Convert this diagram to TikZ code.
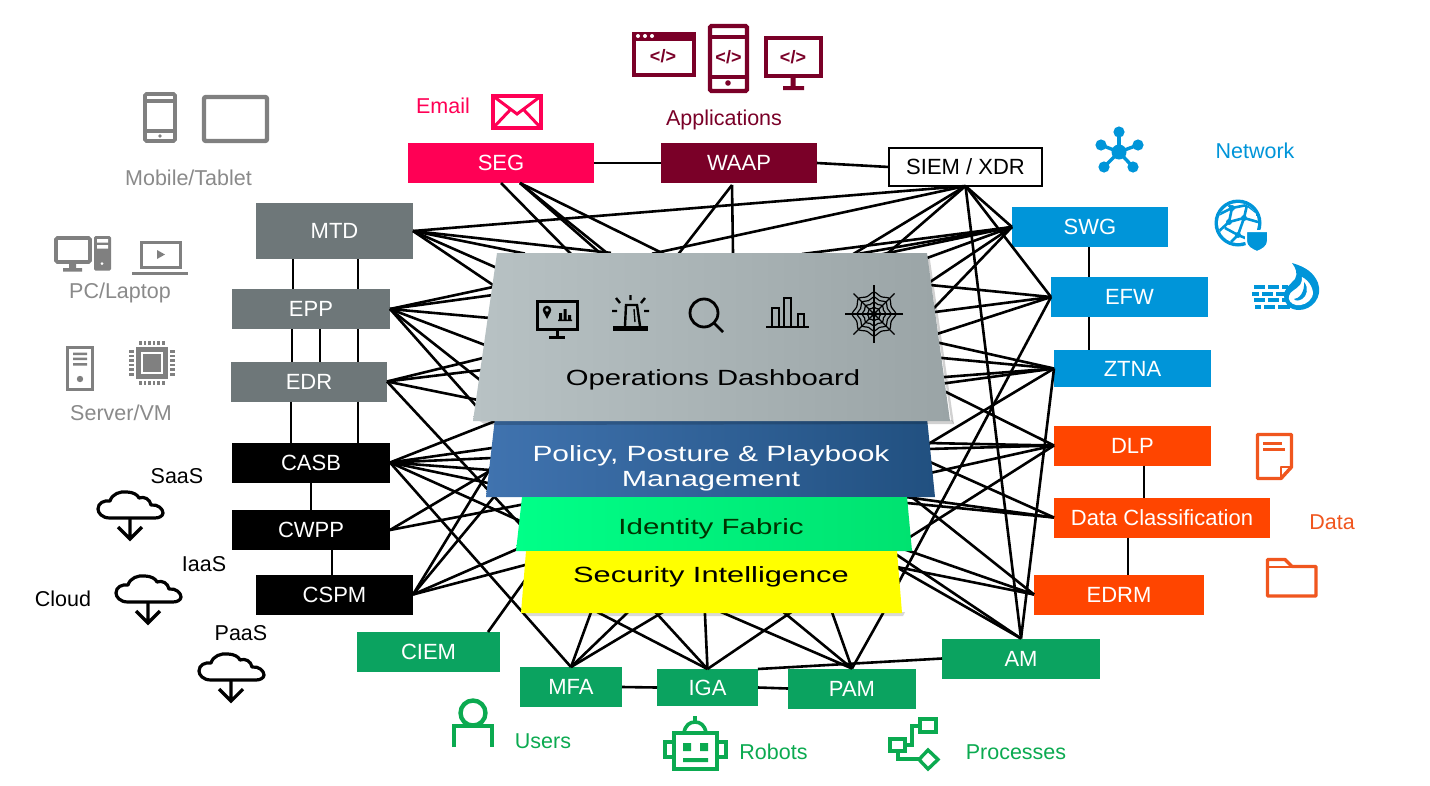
\documentclass[tikz,border=0pt]{standalone}
\usepackage{fontspec}
\usepackage{graphicx}
\setmainfont{Liberation Sans}
\usetikzlibrary{calc,shapes.geometric}
\definecolor{cseg}{HTML}{FF0055}
\definecolor{cwaap}{HTML}{7A0028}
\definecolor{cgrey}{HTML}{6E7779}
\definecolor{cblue}{HTML}{0095D9}
\definecolor{corange}{HTML}{FF4500}
\definecolor{cdata}{HTML}{F0561E}
\definecolor{cgreen}{HTML}{0BA360}
\definecolor{cicon}{HTML}{808080}
\definecolor{ctext}{HTML}{8A8A8A}
\definecolor{ctxtgreen}{HTML}{0BAA50}
\definecolor{polL}{HTML}{4073AF}
\definecolor{polR}{HTML}{215080}
\definecolor{idL}{HTML}{00FF88}
\definecolor{idR}{HTML}{00E270}
\definecolor{dashL}{HTML}{B8C2C4}
\definecolor{dashR}{HTML}{9AA4A6}
\definecolor{cyel}{HTML}{FFFF00}
\tikzset{
  box/.style={rectangle,inner sep=0pt,outer sep=0pt,text=white,font=\fontsize{22}{26}\selectfont,anchor=center},
  conn/.style={line width=2.6pt,black},
  hid/.style={conn,shorten >=-8pt},
  lbl/.style={inner sep=0pt,font=\fontsize{21.5}{26}\selectfont},
  ptext/.style={inner sep=0pt,font=\fontsize{22}{26}\selectfont},
  panel/.style={draw=none},
  shadowp/.style={fill=black,opacity=.18,draw=none},
}
\newcommand{\cloudicon}[2]{%
 \begin{scope}[shift={(#1,#2)}]
  \draw[line width=3.2pt,black,line join=round,line cap=round] (-20,0)
    .. controls (-28,0) and (-32,-5) .. (-32,-9)
    .. controls (-32,-15) and (-26,-18) .. (-20,-17)
    .. controls (-18,-24) and (-10,-27) .. (-3,-26)
    .. controls (3,-26) and (8,-23) .. (9,-20)
    .. controls (14,-22) and (20,-19) .. (21,-13)
    .. controls (28,-14) and (33,-9) .. (33,-5)
    .. controls (33,-2) and (29,0) .. (25,0) -- cycle;
  \draw[line width=3.2pt,black,line join=miter] (0,0) -- (0,20) (-12,9) -- (0,21) -- (12,9);
 \end{scope}}
\begin{document}
\begin{tikzpicture}[x=1pt,y=-1pt]
\useasboundingbox (0,0) rectangle (1430,785);
\fill[white] (0,0) rectangle (1430,785);
% boxes (nodes)
\node[box,fill=cseg,minimum width=186pt,minimum height=40pt] (seg) at (501,163) {SEG};
\node[box,fill=cwaap,minimum width=156pt,minimum height=40pt] (waap) at (739,163) {WAAP};
\node[box,fill=white,draw=black,line width=2.4pt,text=black,minimum width=153pt,minimum height=38pt] (siem) at (965.5,167) {SIEM / XDR};
\node[box,fill=cgrey,minimum width=157pt,minimum height=56pt] (mtd) at (334.5,231) {MTD};
\node[box,fill=cgrey,minimum width=158pt,minimum height=40pt] (epp) at (311,309) {EPP};
\node[box,fill=cgrey,minimum width=156pt,minimum height=40pt] (edr) at (309,381.5) {EDR};
\node[box,fill=black,minimum width=158pt,minimum height=40pt] (casb) at (311,462.5) {CASB};
\node[box,fill=black,minimum width=158pt,minimum height=40pt] (cwpp) at (311,530) {CWPP};
\node[box,fill=black,minimum width=157pt,minimum height=40pt] (cspm) at (334.5,594.5) {CSPM};
\node[box,fill=cblue,minimum width=156pt,minimum height=40pt] (swg) at (1090,227) {SWG};
\node[box,fill=cblue,minimum width=157pt,minimum height=40pt] (efw) at (1129.5,297) {EFW};
\node[box,fill=cblue,minimum width=157pt,minimum height=37pt] (ztna) at (1132.5,368.5) {ZTNA};
\node[box,fill=corange,minimum width=157pt,minimum height=40pt] (dlp) at (1132.5,445.5) {DLP};
\node[box,fill=corange,minimum width=216pt,minimum height=40pt] (dc) at (1162,517.5) {Data Classification};
\node[box,fill=corange,minimum width=170pt,minimum height=40pt] (edrm) at (1119,594.5) {EDRM};
\node[box,fill=cgreen,minimum width=143pt,minimum height=40pt] (ciem) at (428.5,652) {CIEM};
\node[box,fill=cgreen,minimum width=102pt,minimum height=40pt] (mfa) at (571,687) {MFA};
\node[box,fill=cgreen,minimum width=101pt,minimum height=37pt] (iga) at (707.5,687.5) {IGA};
\node[box,fill=cgreen,minimum width=128pt,minimum height=40pt] (pam) at (852,688.5) {PAM};
\node[box,fill=cgreen,minimum width=158pt,minimum height=40pt] (am) at (1021,658.5) {AM};
% connector hubs
\coordinate (seghub) at (520,183);
\coordinate (waaphub) at (732,185);
\coordinate (ciemhub) at (488,632);
% box to box
\draw[conn] (seg.east) -- (waap.west);
\draw[conn] (waap.east) -- (siem.west);
\draw[conn] (293,0|-mtd.south) -- (293,0|-epp.north);
\draw[conn] (358,0|-mtd.south) -- (358,0|-epp.north);
\draw[conn] (292,0|-epp.south) -- (292,0|-edr.north);
\draw[conn] (320,0|-epp.south) -- (320,0|-edr.north);
\draw[conn] (358,0|-epp.south) -- (358,0|-edr.north);
\draw[conn] (291,0|-edr.south) -- (291,0|-casb.north);
\draw[conn] (358,0|-edr.south) -- (358,0|-casb.north);
\draw[conn] (311,0|-casb.south) -- (311,0|-cwpp.north);
\draw[conn] (332,0|-cwpp.south) -- (332,0|-cspm.north);
\draw[conn] (1089,0|-swg.south) -- (1089,0|-efw.north);
\draw[conn] (1089,0|-efw.south) -- (1089,0|-ztna.north);
\draw[conn] (1144,0|-dlp.south) -- (1144,0|-dc.north);
\draw[conn] (1128,0|-dc.south) -- (1128,0|-edrm.north);
\draw[conn] (mfa.east) -- (iga.west);
\draw[conn] (iga.east) -- (pam.west);
\draw[conn] (am.west) -- (iga.north east);
\draw[conn] (mtd.east) -- (siem.south);
\draw[conn] (siem.south) -- (swg.west);
\draw[conn] (siem.south) -- (efw.west);
\draw[conn] (siem.south) -- (am.north);
\draw[conn] (ztna.west) -- (am.north);
\draw[conn] (casb.east) -- (mfa.north);
% fans into the layers of the stack
\foreach \s/\x/\y in {
 seg.south/570/253, seghub/600/253, seghub/607/253, seghub/660/252,
 waaphub/680/252, waaphub/733/253,
 siem.south/660/252, siem.south/855/253, siem.south/888/253,
 mtd.east/603/252, mtd.east/517/252, mtd.east/497/268, mtd.east/493/285,
 epp.east/493/287, epp.east/493/295, epp.east/490/318, epp.east/485/345, epp.east/480/380, epp.east/477/407,
 edr.east/483/358, edr.east/482/370, edr.east/478/400, edr.east/517/521,
 casb.east/493/422, casb.east/492/448, casb.east/492/458, casb.east/490/470, casb.east/488/483, casb.east/518/520,
 cwpp.east/488/472, cwpp.east/520/505,
 cspm.east/488/472, cspm.east/493/498, cspm.east/515/550, cspm.east/525/565,
 ciemhub/523/583,
 swg.west/810/253, swg.west/863/253, swg.west/888/253, swg.west/927/258, swg.west/930/282, swg.west/937/305,
 efw.west/930/285, efw.west/935/312, efw.west/940/333, efw.west/900/580,
 ztna.west/940/343, ztna.west/942/358, ztna.west/945/377, ztna.west/947/383, ztna.west/930/443,
 dlp.west/948/393, dlp.west/927/443, dlp.west/928/449, dlp.west/930/473, dlp.west/910/537,
 dc.west/930/462, dc.west/913/498, dc.west/907/503,
 edrm.west/913/498, edrm.west/912/552, edrm.west/897/567,
 am.north/897/555, am.north/898/568,
 mfa.north/590/615, mfa.north/625/615, mfa.north/658/615,
 iga.north/603/615, iga.north/658/615, iga.north/705/615, iga.north/787/615,
 pam.north/728/615, pam.north/787/615, pam.north/833/615, pam.north/882/615}
 { \coordinate (fanend) at (\x,\y); \draw[hid] (\s) -- (fanend); }
% stack of layers
\path[panel,left color=polL,right color=polR] (495,418) -- (927,418) -- (935,497) -- (486,497) -- cycle;
\path[panel,left color=idL,right color=idR] (522,497) -- (907,497) -- (912,551) -- (516,551) -- cycle;
\fill[black,opacity=.15] (522,612) -- (905,612) -- (903,616) -- (524,616) -- cycle;
\fill[cyel] (526,551) -- (897,551) -- (902,613) -- (521,613) -- cycle;
\fill[shadowp] (478,420) -- (952,420) -- (954,424) -- (486,425) -- cycle;
\fill[shadowp] (927,255) -- (951,420) -- (954,424) -- (930,260) -- cycle;
\path[panel,left color=dashL,right color=dashR] (497,253) -- (927,253) -- (950,421) -- (473,421) -- cycle;
\node[ptext] (t1) at (713,380) {\scalebox{1.33}[1]{Operations Dashboard}};
\node[ptext,text=white] (t2) at (711,456) {\scalebox{1.36}[1]{Policy, Posture \& Playbook}};
\node[ptext,text=white] (t3) at (711,481) {\scalebox{1.39}[1]{Management}};
\node[ptext,text=black!80!green] (t4) at (711,529) {\scalebox{1.34}[1]{Identity Fabric}};
\node[ptext] (t5) at (711,577) {\scalebox{1.4}[1]{Security Intelligence}};
% dashboard icons
\begin{scope}[line width=2.4pt,black]
 \draw[line width=3pt] (537,301) rectangle (577,329);
 \draw[line width=3pt] (557,329) -- (557,337) (549,337) -- (565,337);
 \draw (547,310) circle (3pt);
 \fill (543.5,312) -- (547,319) -- (550.5,312) -- cycle;
 \fill (558,319.5) rectangle (572,321) (559,313) rectangle (562,320) (563.5,309) rectangle (566.5,320) (568,315) rectangle (571,320);
 \fill (613,326) rectangle (648,331);
 \draw (625,326) -- (626,305) -- (637,305) -- (640,326);
 \draw[line width=1.4pt] (634,309) -- (635,322);
 \draw (630.5,295) -- (630.5,300) (616,298) -- (620,303) (645,298) -- (641,303) (612,311) -- (617,311) (644,311) -- (649,311);
 \draw[line width=2.8pt] (704,313) circle (14pt);
 \draw[line width=2.8pt] (714,323) -- (723,332);
 \draw[line width=2.8pt] (766,327) -- (809,327);
 \draw (772,327) -- (772,308) -- (779,308) -- (779,327) (784,327) -- (784,298) -- (791,298) -- (791,327) (798,327) -- (798,314) -- (804,314) -- (804,327);
 \begin{scope}[line width=1.2pt]
  \foreach \a in {0,45,...,315} { \draw ({874+29*cos(\a)},{314+29*sin(\a)}) -- (874,314); }
  \foreach \r in {7,12,17,22} {
    \draw plot[smooth cycle,tension=.45] coordinates {
      ({874+\r*cos(0)},{314+\r*sin(0)}) ({874+.85*\r*cos(22.5)},{314+.85*\r*sin(22.5)})
      ({874+\r*cos(45)},{314+\r*sin(45)}) ({874+.85*\r*cos(67.5)},{314+.85*\r*sin(67.5)})
      ({874+\r*cos(90)},{314+\r*sin(90)}) ({874+.85*\r*cos(112.5)},{314+.85*\r*sin(112.5)})
      ({874+\r*cos(135)},{314+\r*sin(135)}) ({874+.85*\r*cos(157.5)},{314+.85*\r*sin(157.5)})
      ({874+\r*cos(180)},{314+\r*sin(180)}) ({874+.85*\r*cos(202.5)},{314+.85*\r*sin(202.5)})
      ({874+\r*cos(225)},{314+\r*sin(225)}) ({874+.85*\r*cos(247.5)},{314+.85*\r*sin(247.5)})
      ({874+\r*cos(270)},{314+\r*sin(270)}) ({874+.85*\r*cos(292.5)},{314+.85*\r*sin(292.5)})
      ({874+\r*cos(315)},{314+\r*sin(315)}) ({874+.85*\r*cos(337.5)},{314+.85*\r*sin(337.5)})};
  }
  \fill (874,314) circle (3pt);
 \end{scope}
\end{scope}
% top icons
\node[lbl,text=cseg] (lemail) at (443,106) {Email};
\begin{scope}[cseg,line width=3.4pt]
 \draw (493,96) rectangle (541,128);
 \draw[line width=3pt] (493,96) -- (517,114) -- (541,96) (493,128) -- (511,109) (541,128) -- (523,109);
\end{scope}
\node[lbl,text=cwaap] (lapp) at (724,120) {Applications};
\begin{scope}[cwaap]
 \draw[line width=4pt] (634,34) rectangle (694,75);
 \fill (632,32) rectangle (696,40.5);
 \fill[white] (638,36) circle (2pt) (645,36) circle (2pt) (652,36) circle (2pt);
 \node[inner sep=0pt,text=cwaap,font=\fontsize{18}{20}\selectfont\bfseries] (c1) at (663,56) {</>};
 \draw[line width=4.4pt,rounded corners=1.5pt] (710,26) rectangle (747,91);
 \draw[line width=4pt] (709,37) -- (748,37) (709,77) -- (748,77);
 \fill (728,83) circle (2.8pt);
 \node[inner sep=0pt,text=cwaap,font=\fontsize{18}{20}\selectfont\bfseries] (c2) at (728.5,57) {</>};
 \draw[line width=4.4pt] (766,38) rectangle (821,76);
 \fill (790.5,78) rectangle (795.5,87) (783,86) rectangle (804,90);
 \node[inner sep=0pt,text=cwaap,font=\fontsize{18}{20}\selectfont\bfseries] (c3) at (793,57) {</>};
\end{scope}
% network icons
\node[lbl,text=cblue] (lnet) at (1255,151) {Network};
\begin{scope}[cblue]
 \foreach \x/\y in {1119/132,1101/145,1138/145,1104/167,1133/167} {
   \draw[line width=3.4pt] (1119,152) -- (\x,\y); \fill (\x,\y) circle (5.6pt);}
 \fill (1119,152) circle (7.5pt);
 % globe
 \fill (1238,223) circle (23.5pt);
 \begin{scope}
  \clip (1238,223) circle (20pt);
  \fill[white] (1238,223) circle (20pt);
  \draw[cblue,line width=2.6pt,rounded corners=3pt] (1218,215) -- (1232,208) -- (1247,205) (1232,208) -- (1229,222) -- (1218,232) (1229,222) -- (1244,218) -- (1258,222) (1244,218) -- (1247,205) (1244,218) -- (1238,235) -- (1228,245) (1238,235) -- (1225,228) (1226,203) -- (1232,208) (1247,205) -- (1256,212) (1238,235) -- (1250,240);
  \fill[cblue] (1232,208) circle (3pt) (1229,222) circle (3pt) (1244,218) circle (3pt) (1238,235) circle (3pt);
 \end{scope}
 \draw[white,line width=2pt,fill=cblue] (1246,231) -- (1268,231) -- (1268,241) .. controls (1268,247) and (1262,250) .. (1257,252) .. controls (1252,250) and (1246,247) .. (1246,241) -- cycle;
 % firewall
 \foreach \y/\l in {285/{1254/1265,1268/1279,1282/1288}, 291.5/{1252/1259,1262/1273,1276/1287}, 298/{1254/1265,1268/1279,1282/1290}, 304.5/{1255/1261,1264/1275,1278/1290}} {
   \foreach \a/\b in \l { \fill (\a,\y) rectangle (\b,\y+4); } }
 \fill (1292,263) .. controls (1306,267) and (1314,273) .. (1318,283)
   .. controls (1323,297) and (1312,310) .. (1299,310)
   .. controls (1289,310) and (1284,303) .. (1284,296)
   .. controls (1284,288) and (1291,284) .. (1295,279)
   .. controls (1298,274) and (1296,268) .. (1292,263) -- cycle;
 \fill[white] (1302,277) .. controls (1310,281) and (1315,291) .. (1312,297)
   .. controls (1309,303) and (1302,306) .. (1296,305)
   .. controls (1291,304) and (1288,300) .. (1289,296)
   .. controls (1290,291) and (1296,290) .. (1300,285)
   .. controls (1302,282) and (1302,279) .. (1302,277) -- cycle;
 \fill (1304,282) .. controls (1309,288) and (1307,296) .. (1302,299)
   .. controls (1299,301) and (1295,301) .. (1294,299)
   .. controls (1299,299) and (1305,292) .. (1304,282) -- cycle;
\end{scope}
% mobile / pc / server
\node[lbl,text=ctext] (lmob) at (188.5,178) {Mobile/Tablet};
\node[lbl,text=ctext] (lpc) at (120,293) {PC/Laptop};
\node[lbl,text=ctext] (lsrv) at (121,413) {Server/VM};
\begin{scope}[cicon]
 \draw[line width=3.8pt,rounded corners=1.5pt] (145,94) rectangle (175,141);
 \draw[line width=3.2pt] (144,101) -- (176,101) (144,131) -- (176,131);
 \fill (160,136) circle (1.8pt);
 \draw[line width=4.4pt,rounded corners=2pt] (204,97) rectangle (267,141);
 % pc
 \draw[line width=3.6pt,rounded corners=1.5pt] (56,238) rectangle (90,262);
 \fill (69,263) rectangle (76,269) (63,268) rectangle (82,271.5);
 \fill[rounded corners=1.5pt] (94,236) rectangle (111,270.5);
 \fill[white] (97,239) rectangle (108,242.5) (97,245) rectangle (108,248.5) (102,263.5) circle (1.5pt);
 \draw[line width=3pt] (141.5,242.5) rectangle (180.5,267);
 \fill (157,250) -- (165,254.5) -- (157,259) -- cycle;
 \fill (132,271.5) rectangle (188,275);
 % server
 \draw[line width=3pt] (67.5,347.5) rectangle (92.5,389);
 \fill (73,352.5) rectangle (87,355) (73,357.5) rectangle (87,360) (73,363) rectangle (87,365.5);
 \fill (80,379) circle (3.2pt);
 % chip
 \fill (136,347) rectangle (168,379);
 \draw[white,line width=1.5pt] (142,353) rectangle (162,373);
 \foreach \i in {0,1,2,3,4,5} {
   \fill ({140+\i*4.6-1},341) rectangle ({140+\i*4.6+1.6},345);
   \fill ({140+\i*4.6-1},381) rectangle ({140+\i*4.6+1.6},385);
   \fill (129,{351+\i*4.6-1}) rectangle (134,{351+\i*4.6+1.6});
   \fill (170,{351+\i*4.6-1}) rectangle (175,{351+\i*4.6+1.6});
 }
\end{scope}
% clouds
\cloudicon{130}{518}
\cloudicon{148}{602}
\cloudicon{231}{680}
\node[lbl] (lsaas) at (177,476) {SaaS};
\node[lbl] (liaas) at (204,564) {IaaS};
\node[lbl] (lcloud) at (63,599) {Cloud};
\node[lbl] (lpaas) at (241,633) {PaaS};
% data icons
\node[lbl,text=cdata] (ldata) at (1332,522) {Data};
\begin{scope}[cdata,line width=3.4pt,line join=round]
 \draw (1257.5,434.5) -- (1291.5,434.5) -- (1291.5,467) -- (1281,478.5) -- (1257.5,478.5) -- cycle;
 \draw[line width=2.5pt] (1281,478.5) -- (1281,467) -- (1291.5,467);
 \draw[line width=3pt] (1263,443) -- (1282,443) (1263,449) -- (1285,449);
 \draw (1267.5,596) -- (1267.5,559.5) -- (1285,559.5) -- (1292,566.5) -- (1316,566.5) -- (1316,596) -- cycle;
 \draw[line width=2pt] (1267.5,566.5) -- (1292,566.5);
\end{scope}
% user / robot / process
\node[lbl,text=ctxtgreen] (lusr) at (543,741) {Users};
\node[lbl,text=ctxtgreen] (lrob) at (773.5,752) {Robots};
\node[lbl,text=ctxtgreen] (lproc) at (1016,752) {Processes};
\begin{scope}[ctxtgreen,line width=4.4pt]
 \draw (473,713) circle (12.5pt);
 \draw (454,747) -- (454,726) -- (492,726) -- (492,747);
 % robot
 \draw (674,733) rectangle (717,769);
 \draw (665,742) rectangle (674,757) (717,742) rectangle (726,757);
 \draw[line width=3.6pt] (684,733) .. controls (685,725) and (690,722) .. (695,722) .. controls (700,722) and (705,725) .. (706,733);
 \fill (693,716) rectangle (697,722);
 \fill (683,743) rectangle (691,751) (700,743) rectangle (708,751) (683,758) rectangle (708,762);
 % process
 \draw[line width=3.4pt] (890,739) rectangle (905,751) (920,719) rectangle (936,732);
 \draw[line width=3.4pt] (905,745) -- (912,745) -- (912,726) -- (920,726) (898,751) -- (898,759) -- (919,759);
 \draw[line width=3.4pt] (928,750) -- (938,759.5) -- (928,769) -- (919,759.5) -- cycle;
\end{scope}
\end{tikzpicture}
\end{document}
